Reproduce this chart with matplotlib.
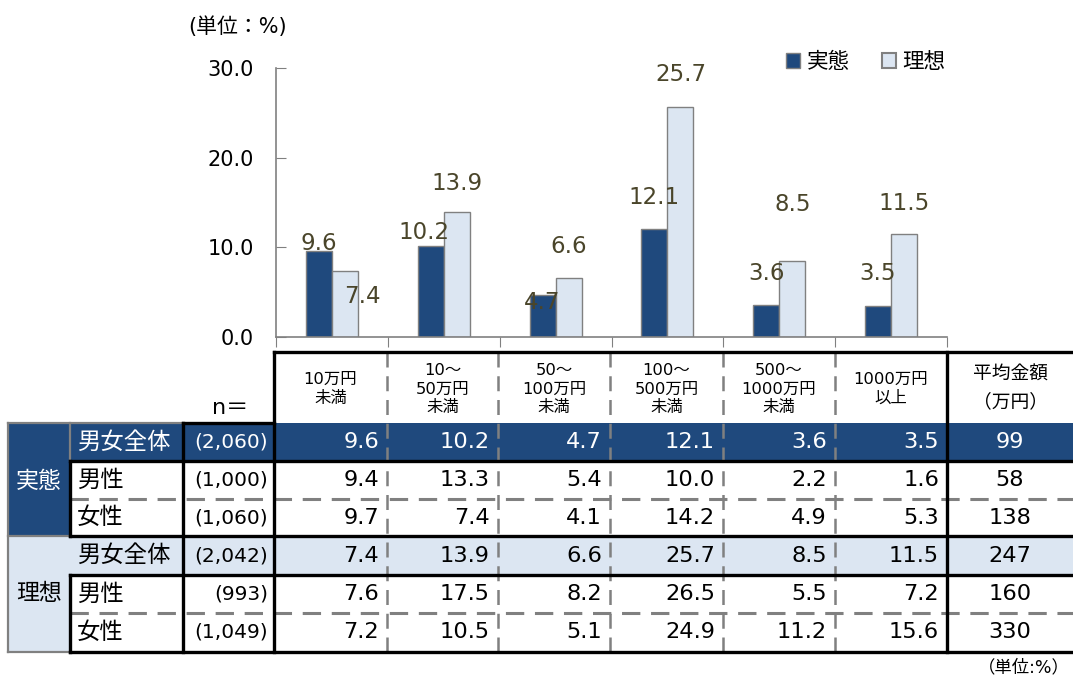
import numpy as np
import matplotlib
matplotlib.use("Agg")
import matplotlib.pyplot as plt
from matplotlib.patches import Rectangle, Patch

plt.rcParams['font.family'] = ['DejaVu Sans', 'Noto Sans CJK JP']

# ---------------- data ----------------
categories = ["10万円\n未満", "10～\n50万円\n未満", "50～\n100万円\n未満",
              "100～\n500万円\n未満", "500～\n1000万円\n未満", "1000万円\n以上"]
series_names = ["実態", "理想"]
segment_labels = ["男女全体", "男性", "女性"]
n_actual = ["(2,060)", "(1,000)", "(1,060)"]
n_ideal = ["(2,042)", "(993)", "(1,049)"]
actual_total = [9.6, 10.2, 4.7, 12.1, 3.6, 3.5]
actual_male = [9.4, 13.3, 5.4, 10.0, 2.2, 1.6]
actual_female = [9.7, 7.4, 4.1, 14.2, 4.9, 5.3]
ideal_total = [7.4, 13.9, 6.6, 25.7, 8.5, 11.5]
ideal_male = [7.6, 17.5, 8.2, 26.5, 5.5, 7.2]
ideal_female = [7.2, 10.5, 5.1, 24.9, 11.2, 15.6]
avg_actual = [99, 58, 138]
avg_ideal = [247, 160, 330]
avg_header = "平均金額\n（万円）"
yticks = [0, 10, 20, 30]

# ---------------- style / layout ----------------
DARK = "#1F497D"
LIGHT = "#DCE6F2"
GRAY = "#808080"
LABEL_COLOR = "#4A452A"
W, H = 1073, 675

# manual label placement (offsets from bar top, in data units)
dark_dy = [0.88, 1.51, -0.8, 3.51, 3.43, 3.53]
dark_dx = [0, -0.06, 0, 0, 0, 0]
light_dy = [-2.83, 3.27, 3.44, 3.52, 6.33, 3.44]
light_dx = [0.16, 0, 0, 0, 0, 0]

fig = plt.figure(figsize=(W / 100, H / 100), dpi=100)

# ---------------- table (pixel coordinates) ----------------
tab = fig.add_axes([0, 0, 1, 1], zorder=0)
tab.set_xlim(0, W)
tab.set_ylim(H, 0)
tab.axis("off")

col_x = [8, 70, 183, 274, 387, 498, 610, 723, 835, 947, 1085]
row_y = [352, 423, 461, 499, 536, 575, 613, 652]
XR = col_x[-1]

def rect(x0, y0, x1, y1, color):
    tab.add_patch(Rectangle((x0, y0), x1 - x0, y1 - y0, facecolor=color,
                            edgecolor="none", zorder=1))

rect(col_x[0], row_y[1], XR, row_y[2], DARK)
rect(col_x[0], row_y[2], col_x[1], row_y[4], DARK)
rect(col_x[0], row_y[4], XR, row_y[5], LIGHT)
rect(col_x[0], row_y[5], col_x[1], row_y[7], LIGHT)

def line(xs, ys, color, lw, ls="-", z=3):
    tab.plot(xs, ys, color=color, lw=lw, ls=ls, zorder=z,
             solid_capstyle="projecting", dash_capstyle="butt")

DASH = (0, (6, 3.5))
# dashed separators
for yy in (row_y[3], row_y[6]):
    line([col_x[1], XR], [yy, yy], GRAY, 2.2, DASH, z=2)
for xx in col_x[4:9]:
    line([xx, xx], [row_y[0], row_y[7]], GRAY, 1.8, DASH, z=2)
# gray solid borders
line([col_x[0], col_x[2]], [row_y[1], row_y[1]], GRAY, 1.6)
line([col_x[0], col_x[0]], [row_y[1], row_y[7]], GRAY, 1.6)
line([col_x[0], col_x[1]], [row_y[7], row_y[7]], GRAY, 1.6)
line([col_x[0], col_x[1]], [row_y[4], row_y[4]], GRAY, 1.6)
line([col_x[1], col_x[1]], [row_y[1], row_y[2]], GRAY, 1.6)
# thick black borders
TK = 2.4
line([col_x[3], XR], [row_y[0], row_y[0]], "black", TK, z=4)
line([col_x[3], col_x[3]], [row_y[0], row_y[7]], "black", TK, z=4)
line([col_x[9], col_x[9]], [row_y[0], row_y[7]], "black", TK, z=4)
line([col_x[2], col_x[2]], [row_y[1], row_y[7]], "black", TK, z=4)
line([col_x[2], col_x[3]], [row_y[1], row_y[1]], "black", TK, z=4)
for yy in (row_y[2], row_y[4], row_y[5], row_y[7]):
    line([col_x[1], XR], [yy, yy], "black", TK, z=4)
line([col_x[1], col_x[1]], [row_y[2], row_y[4]], "black", TK, z=4)
line([col_x[1], col_x[1]], [row_y[5], row_y[7]], "black", TK, z=4)

# header texts
for i, cat in enumerate(categories):
    cx = (col_x[3 + i] + col_x[4 + i]) / 2
    tab.text(cx, 389, cat, ha="center", va="center", fontsize=11.8,
             linespacing=1.3, zorder=5)
tab.text(1010, 388, avg_header, ha="center", va="center", fontsize=13.5,
         linespacing=1.55, zorder=5)
tab.text(230, 408, "n＝", ha="center", va="center", fontsize=16, zorder=5)

# group labels
tab.text((col_x[0] + col_x[1]) / 2, (row_y[1] + row_y[4]) / 2 + 2, series_names[0],
         ha="center", va="center", fontsize=16.5, color="white", zorder=5)
tab.text((col_x[0] + col_x[1]) / 2, (row_y[4] + row_y[7]) / 2, series_names[1],
         ha="center", va="center", fontsize=16.5, color="black", zorder=5)

rows_vals = [actual_total, actual_male, actual_female, ideal_total, ideal_male, ideal_female]
rows_n = n_actual + n_ideal
rows_avg = avg_actual + avg_ideal
for r in range(6):
    cy = (row_y[1 + r] + row_y[2 + r]) / 2
    tc = "white" if r == 0 else "black"
    tab.text(77, cy, segment_labels[r % 3], ha="left", va="center",
             fontsize=16.8, color=tc, zorder=5)
    tab.text(col_x[3] - 6, cy, rows_n[r], ha="right", va="center",
             fontsize=14.5, color=tc, zorder=5)
    for c, v in enumerate(rows_vals[r]):
        tab.text(col_x[4 + c] - 8, cy, f"{v:.1f}", ha="right", va="center",
                 fontsize=16.2, color=tc, zorder=5)
    tab.text(1010, cy, f"{rows_avg[r]}", ha="center", va="center",
             fontsize=16.2, color=tc, zorder=5)

tab.text(238, 27, "(単位：%)", ha="center", va="center", fontsize=15, zorder=5)
tab.text(1070, 667, "（単位:%）", ha="right", va="center", fontsize=12.5, zorder=5)

# ---------------- bar chart ----------------
ax = fig.add_axes([276 / W, 1 - 337 / H, (947 - 276) / W, (337 - 68) / H], zorder=2)
ax.patch.set_alpha(0)
n = len(categories)
x = np.arange(n) + 0.5
bw = 0.233
ax.bar(x - bw, actual_total, width=bw, align="edge", color=DARK,
       edgecolor=GRAY, lw=1.0, label=series_names[0])
ax.bar(x, ideal_total, width=bw, align="edge", color=LIGHT,
       edgecolor=GRAY, lw=1.0, label=series_names[1])
ax.set_xlim(0, n)
ax.set_ylim(0, 30)
ax.set_yticks(yticks)
ax.set_yticklabels([f"{v:.1f}" for v in yticks])
ax.set_xticks(np.arange(n + 1))
ax.set_xticklabels([])
ax.tick_params(axis="y", direction="in", length=7, color=GRAY, labelsize=15, pad=16)
ax.tick_params(axis="x", direction="out", length=7, color=GRAY)
for s in ("top", "right"):
    ax.spines[s].set_visible(False)
for s in ("left", "bottom"):
    ax.spines[s].set_color(GRAY)
    ax.spines[s].set_linewidth(1.2)

for i in range(n):
    ax.text(x[i] - bw / 2 + dark_dx[i], actual_total[i] + dark_dy[i],
            f"{actual_total[i]:.1f}", ha="center", va="center",
            fontsize=16.5, color=LABEL_COLOR)
    ax.text(x[i] + bw / 2 + light_dx[i], ideal_total[i] + light_dy[i],
            f"{ideal_total[i]:.1f}", ha="center", va="center",
            fontsize=16.5, color=LABEL_COLOR)

handles = [Patch(facecolor=DARK, edgecolor=GRAY), Patch(facecolor=LIGHT, edgecolor=GRAY, lw=1.5)]
fig.legend(handles, series_names, loc="center", bbox_to_anchor=(866 / W, 1 - 62 / H),
           ncol=2, frameon=False, fontsize=15.5, handlelength=0.65, handleheight=0.65,
           handletextpad=0.3, columnspacing=1.5)

fig.savefig("out.png", dpi=100)
